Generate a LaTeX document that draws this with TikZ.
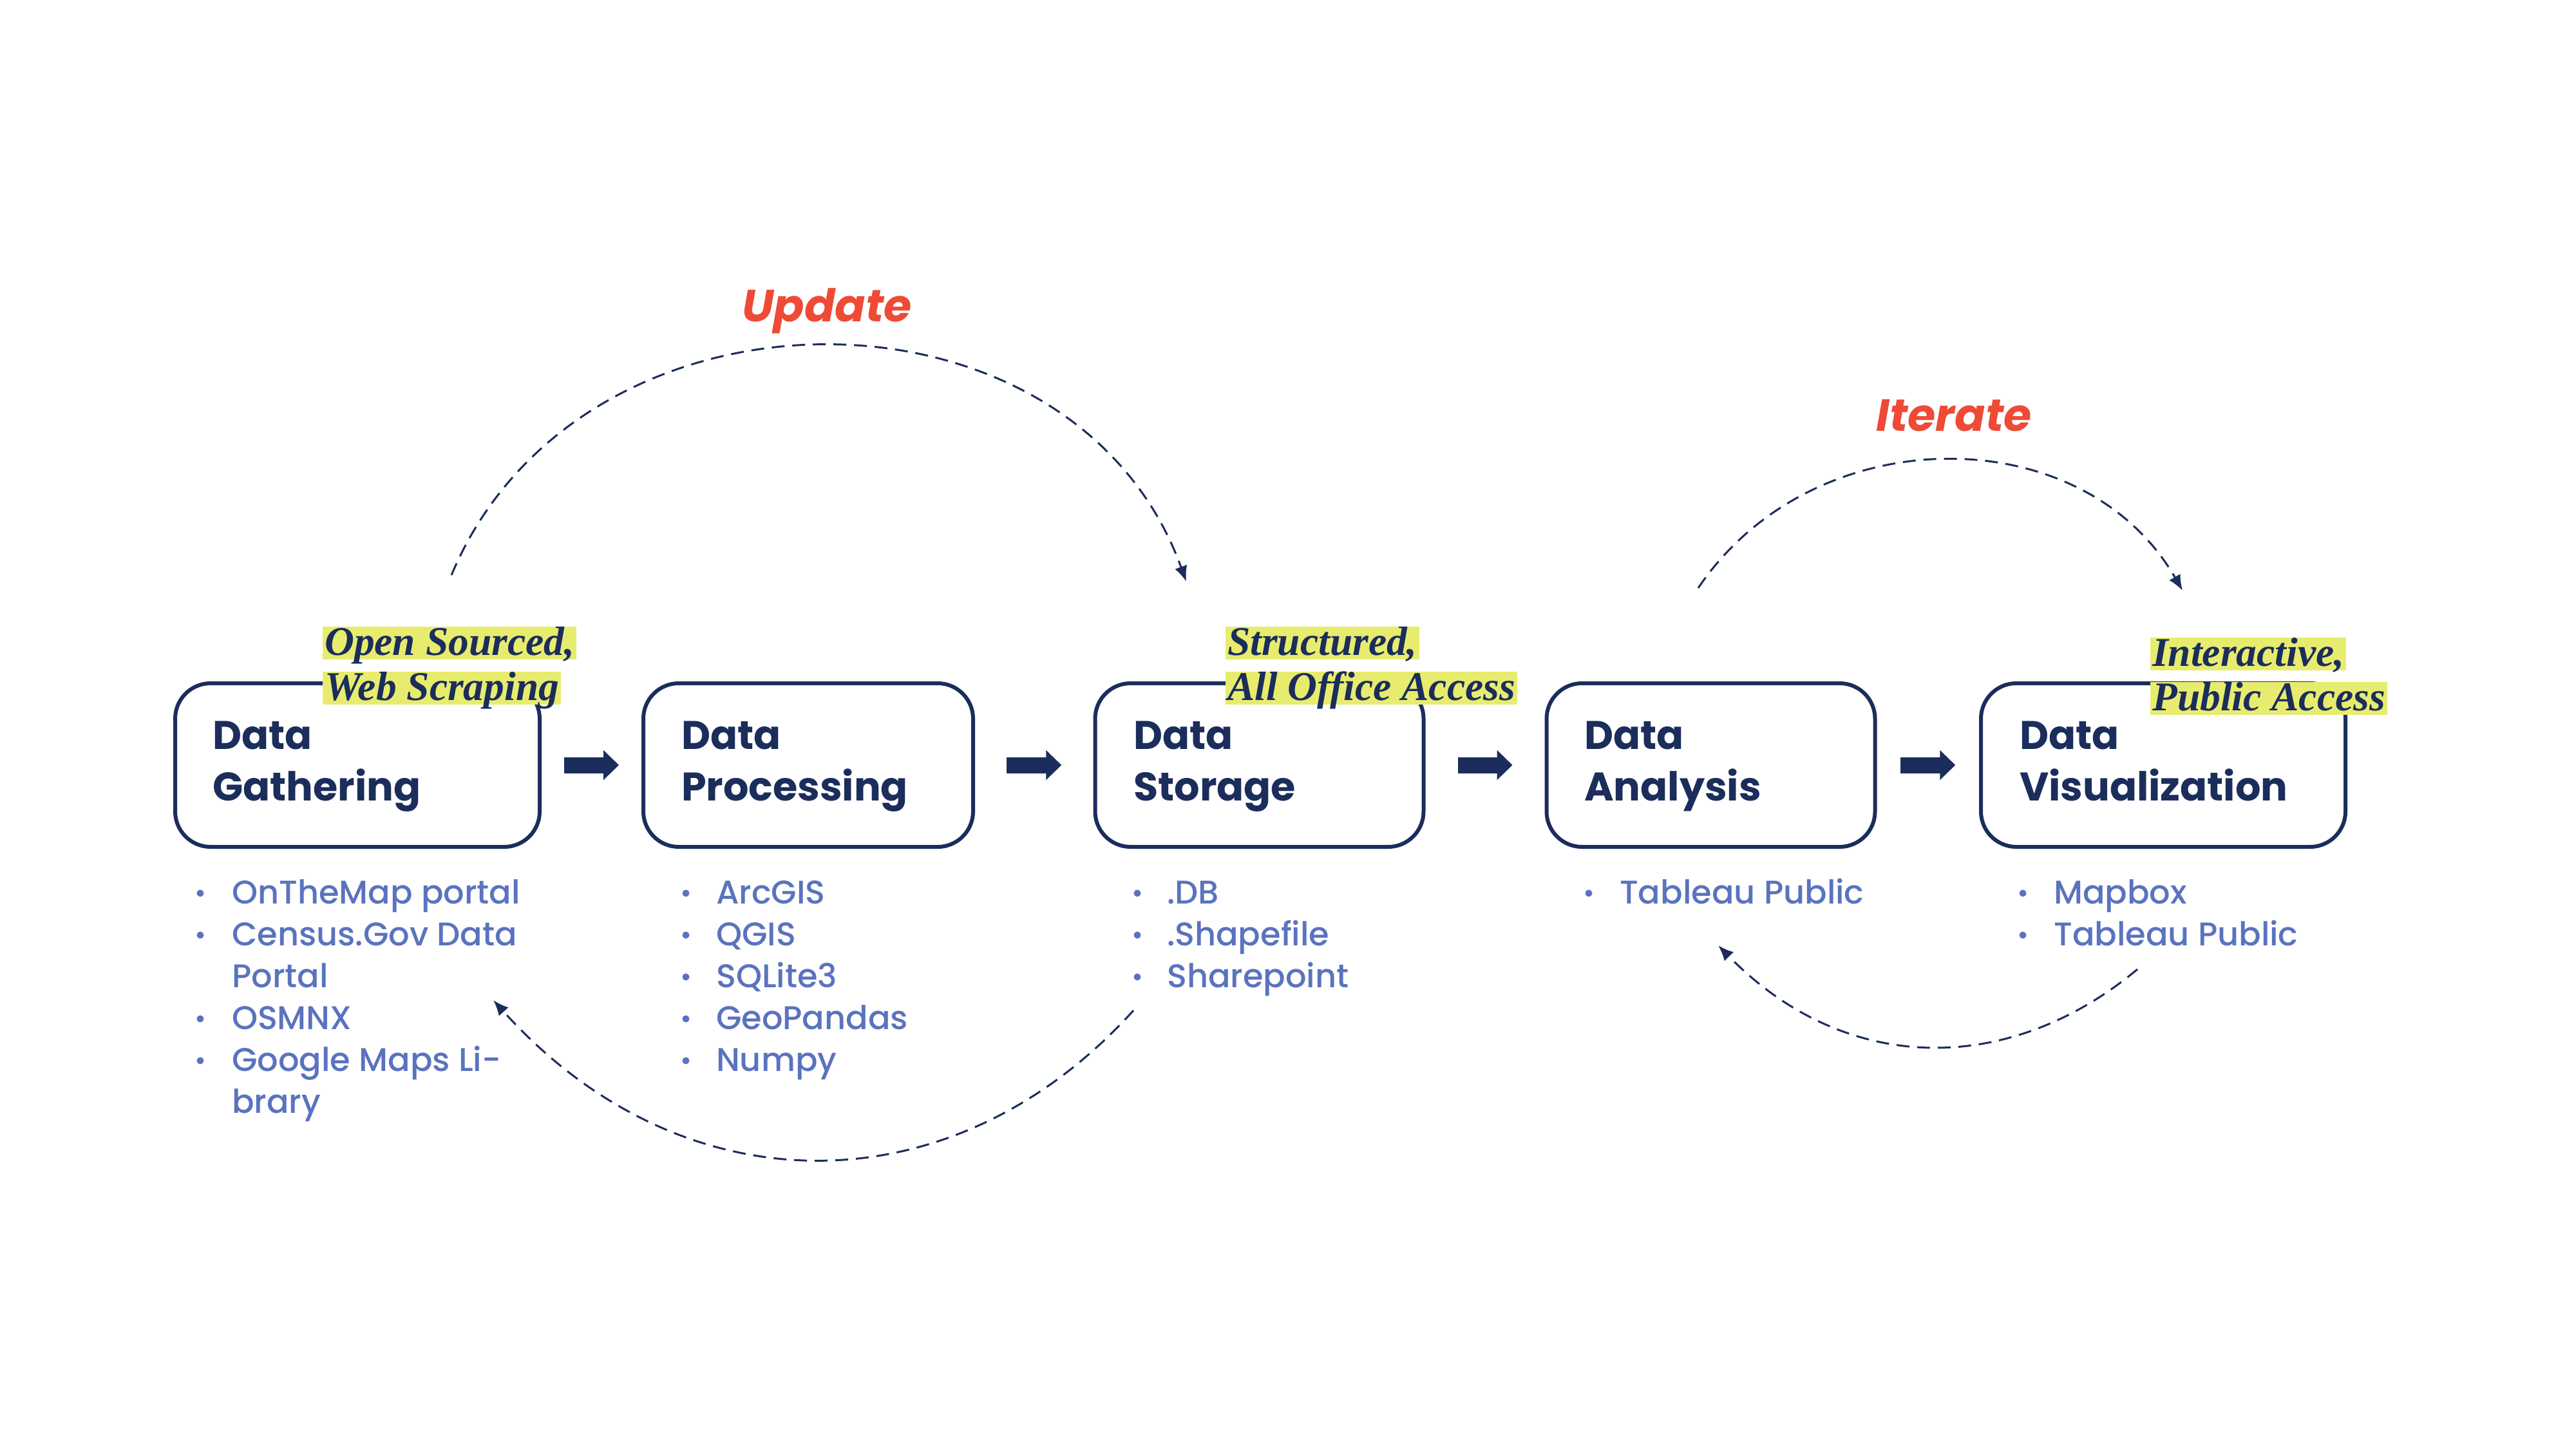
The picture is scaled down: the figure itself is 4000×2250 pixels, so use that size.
\documentclass[tikz,border=0pt]{standalone}
\usepackage{fontspec}
\setmainfont{Poppins}
\newfontfamily\itemfont{Poppins}[UprightFont=* Medium]
\newfontfamily\serifhl{Liberation Serif}
\usetikzlibrary{arrows.meta,calc}
\definecolor{navy}{HTML}{1B2D5B}
\definecolor{loopred}{HTML}{EF4A35}
\definecolor{hlyellow}{HTML}{E7EC6F}
\definecolor{itemblue}{HTML}{5A73BE}
\tikzset{
 stage/.style={draw=navy, line width=6pt, rounded corners=55pt, minimum height=254pt, outer sep=0pt, inner sep=0pt, fill=white},
 ttl/.style={anchor=base west, inner sep=0pt, text=navy, font=\bfseries\fontsize{62}{62}\selectfont},
 item/.style={anchor=base west, inner sep=0pt, text=itemblue, font=\itemfont\fontsize{51}{51}\selectfont},
 dotb/.style={fill=itemblue},
 hl/.style={anchor=north west, fill=hlyellow, text=navy, inner xsep=3pt, inner ysep=0pt, text height=44pt, text depth=7pt, font=\serifhl\bfseries\itshape\fontsize{63.5}{63.5}\selectfont},
 flow/.style={navy, line width=25pt, -{Triangle[length=24pt,width=45pt]}},
 loopc/.style={navy, line width=3pt, dash pattern=on 20pt off 12pt, -{Latex[length=24pt,width=20pt]}},
 looplabel/.style={anchor=base, inner sep=0pt, text=loopred, font=\bfseries\itshape\fontsize{70}{70}\selectfont},
}
\begin{document}
\begin{tikzpicture}[x=1pt,y=-1pt]
\useasboundingbox[fill=white] (0,0) rectangle (4000,2250);

% stages
\node[stage, minimum width=566pt] (b1) at (555,1188) {};
\node[stage, minimum width=512pt] (b2) at (1255,1188) {};
\node[stage, minimum width=510pt] (b3) at (1955.5,1188) {};
\node[stage, minimum width=510pt] (b4) at (2656.5,1188) {};
\node[stage, minimum width=566pt] (b5) at (3359,1188) {};

% titles
\node[ttl] (t1a) at (330,1163) {Data};
\node[ttl] (t1b) at (330,1243) {Gathering};
\node[ttl] (t2a) at (1058,1163) {Data};
\node[ttl] (t2b) at (1058,1243) {Processing};
\node[ttl] (t3a) at (1760,1163) {Data};
\node[ttl] (t3b) at (1760,1243) {Storage};
\node[ttl] (t4a) at (2460,1163) {Data};
\node[ttl] (t4b) at (2460,1243) {Analysis};
\node[ttl] (t5a) at (3136,1163) {Data};
\node[ttl] (t5b) at (3136,1243) {Visualization};

% flow arrows
\foreach \a/\b in {b1/b2,b2/b3,b3/b4,b4/b5}{
  \draw[flow] ($(\a.east)!0.5!(\b.west)+(-42.5,0)$) -- ($(\a.east)!0.5!(\b.west)+(42.5,0)$);
}

% lists
\foreach \y in {1403,1468,1598,1663}{\fill[dotb] (311,\y-16) circle (5.5);}
\node[item] (l1a) at (360,1403) {OnTheMap portal};
\node[item] (l1b) at (360,1468) {Census.Gov Data};
\node[item] (l1c) at (360,1533) {Portal};
\node[item] (l1d) at (360,1598) {OSMNX};
\node[item] (l1e) at (360,1663) {Google Maps Li-};
\node[item] (l1f) at (360,1728) {brary};

\foreach \y in {1403,1468,1533,1598,1663}{\fill[dotb] (1065,\y-16) circle (5.5);}
\node[item] (l2a) at (1112,1403) {ArcGIS};
\node[item] (l2b) at (1112,1468) {QGIS};
\node[item] (l2c) at (1112,1533) {SQLite3};
\node[item] (l2d) at (1112,1598) {GeoPandas};
\node[item] (l2e) at (1112,1663) {Numpy};

\foreach \y in {1403,1468,1533}{\fill[dotb] (1766,\y-16) circle (5.5);}
\node[item] (l3a) at (1812,1403) {.DB};
\node[item] (l3b) at (1812,1468) {.Shapefile};
\node[item] (l3c) at (1812,1533) {Sharepoint};

\fill[dotb] (2467,1403-16) circle (5.5);
\node[item] (l4a) at (2515,1403) {Tableau Public};

\foreach \y in {1403,1468}{\fill[dotb] (3141,\y-16) circle (5.5);}
\node[item] (l5a) at (3189,1403) {Mapbox};
\node[item] (l5b) at (3189,1468) {Tableau Public};

% highlight labels
\node[hl] (h1a) at (501,973) {Open Sourced,};
\node[hl] (h1b) at (501,1043) {Web Scraping};
\node[hl] (h3a) at (1903,973) {Structured,};
\node[hl] (h3b) at (1903,1043) {All Office Access};
\node[hl] (h5a) at (3339,990) {Interactive,};
\node[hl] (h5b) at (3339,1059) {Public Access};

% loops
\coordinate (u0) at (701,893);
\coordinate (u1) at (1842,903);
\coordinate (i0) at (2637,913);
\coordinate (i1) at (3389,917);
\coordinate (d0) at (1760,1569);
\coordinate (d1) at (766,1553);
\coordinate (r0) at (3319,1505);
\coordinate (r1) at (2668,1468);
\draw[loopc] (u0) .. controls (900,417) and (1666,417) .. (u1);
\draw[loopc] (i0) .. controls (2816,648) and (3234,648) .. (i1);
\draw[loopc] (d0) .. controls (1479,1880) and (1060,1880) .. (d1);
\draw[loopc] (r0) .. controls (3120,1671) and (2866,1671) .. (r1);

\node[looplabel] (upd) at (1284,499) {Update};
\node[looplabel] (itr) at (3034,669) {Iterate};
\end{tikzpicture}
\end{document}
